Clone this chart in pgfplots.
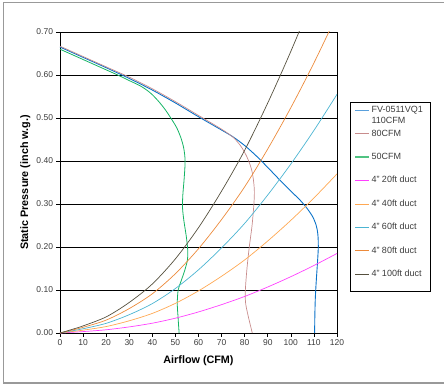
\documentclass[border=0pt]{standalone}
\usepackage{pgfplots}
\pgfplotsset{compat=1.18}
\usepackage{fontspec}
\setmainfont{Liberation Sans}
\definecolor{fvblue}{RGB}{10,114,200}
\definecolor{fvlegend}{RGB}{90,160,220}
\definecolor{rosy}{RGB}{200,140,140}
\definecolor{fgreen}{RGB}{20,180,100}
\definecolor{fglegend}{RGB}{80,195,130}
\definecolor{dmag}{RGB}{255,64,255}
\definecolor{dlor}{RGB}{255,168,82}
\definecolor{dcyan}{RGB}{75,180,210}
\definecolor{dor}{RGB}{236,138,58}
\definecolor{ddark}{RGB}{85,80,62}
\definecolor{tickgray}{RGB}{60,60,60}
\newcommand{\lt}[1]{\textcolor{tickgray}{#1}}

\pgfplotstableread{
x y
0 0
5 0.0016
10 0.0033
20 0.0075
30 0.0142
40 0.0228
50 0.0345
60 0.049
70 0.066
80 0.085
90 0.107
100 0.131
110 0.157
120 0.185
}\ductA
\pgfplotstableread{
x y
0 0
5 0.0032
10 0.0066
20 0.015
30 0.0284
40 0.0456
50 0.069
60 0.098
70 0.132
80 0.17
90 0.214
100 0.262
110 0.314
120 0.37
}\ductB
\pgfplotstableread{
x y
0 0
5 0.0048
10 0.0099
20 0.0225
30 0.0426
40 0.0684
50 0.1035
60 0.147
70 0.198
80 0.255
90 0.321
100 0.393
110 0.471
120 0.555
}\ductC
\pgfplotstableread{
x y
0 0
5 0.0064
10 0.0132
20 0.03
30 0.0568
40 0.0912
50 0.138
60 0.196
70 0.264
80 0.34
90 0.428
100 0.524
110 0.628
120 0.74
}\ductD
\pgfplotstableread{
x y
0 0
5 0.008
10 0.0165
20 0.0375
30 0.071
40 0.114
50 0.1725
60 0.245
70 0.33
80 0.425
90 0.535
100 0.655
110 0.785
120 0.925
}\ductE

\begin{document}
\begin{tikzpicture}
\begin{axis}[
  scale only axis, width=277bp, height=301bp,
  at={(0,0)}, anchor=south west,
  xmin=0, xmax=120, ymin=0, ymax=0.7,
  xtick={0,10,20,30,40,50,60,70,80,90,100,110,120},
  ytick={0,0.1,0.2,0.3,0.4,0.5,0.6,0.7},
  tick align=outside, xtick pos=left, ytick pos=left,
  major tick length=3.5bp,
  tick style={black, line width=0.6pt},
  axis line style={black, line width=1pt},
  ymajorgrids, major grid style={black, line width=0.7pt},
  /pgf/number format/assume math mode=true,
  yticklabel style={/pgf/number format/.cd, fixed, fixed zerofill, precision=2},
  xticklabel style={/pgf/number format/.cd, fixed, precision=0},
  ticklabel style={font=\fontsize{8.5bp}{10bp}\selectfont, text=tickgray},
  xlabel={Airflow (CFM)},
  ylabel={Static Pressure (inch w.g.)},
  every axis x label/.style={at={(axis description cs:0.5,0)}, anchor=north, yshift=-19bp, font=\bfseries\fontsize{10.8bp}{13bp}\selectfont},
  every axis y label/.style={at={(axis description cs:-0.1155,0.5)}, rotate=90, anchor=base, font=\bfseries\fontsize{10.8bp}{13bp}\selectfont},
  legend cell align=left,
  legend image code/.code={\draw[#1] (0bp,0bp) -- (14bp,0bp);},
  legend style={at={(rel axis cs:1.0614,0.7558)}, anchor=north west, draw=none, fill=none, inner sep=0pt,
    row sep=13.9bp, column sep=1bp, font=\fontsize{9bp}{11bp}\selectfont,
    nodes={inner sep=0.5bp, text height=6.5bp, text depth=2bp}},
]
\addplot[fvblue, line width=0.9pt, smooth, tension=0.5, forget plot] coordinates {
(0,0.665) (10,0.641) (20,0.617) (30,0.592) (40,0.565) (50,0.535) (60,0.503) (70,0.472) (75,0.456) (80,0.436) (85,0.412) (90,0.385) (95,0.357) (100,0.330) (104,0.309) (107,0.29) (109.5,0.27) (111,0.25) (111.7,0.23) (111.9,0.20) (111.5,0.16) (111,0.12) (110.6,0.08) (110.4,0.04) (110.3,0)};
\addplot[rosy, line width=0.7pt, smooth, tension=0.5, forget plot] coordinates {
(0,0.667) (10,0.643) (20,0.619) (30,0.595) (40,0.568) (50,0.538) (60,0.506) (70,0.474) (75,0.455) (78,0.437) (80,0.42) (81.6,0.402) (83,0.38) (83.8,0.356) (84.2,0.33) (84,0.30) (83.2,0.25) (82,0.20) (81,0.15) (80.3,0.10) (80.4,0.07) (81.5,0.04) (83.3,0)};
\addplot[fgreen, line width=0.8pt, smooth, tension=0.5, forget plot] coordinates {
(0,0.66) (10,0.636) (20,0.612) (25,0.600) (30,0.587) (35,0.574) (39,0.559) (42.5,0.54) (45.5,0.52) (48,0.50) (50.5,0.478) (52.3,0.455) (53.6,0.43) (54.2,0.40) (53.8,0.36) (53.2,0.32) (53.1,0.29) (53.7,0.26) (54.7,0.225) (55.3,0.195) (55.2,0.17) (54,0.145) (52.4,0.12) (51.2,0.10) (50.8,0.07) (51.1,0.04) (51.6,0)};
\addplot[dmag, line width=0.7pt, smooth, forget plot] table {\ductA};
\addplot[dlor, line width=0.7pt, smooth, forget plot] table {\ductB};
\addplot[dcyan, line width=0.7pt, smooth, forget plot] table {\ductC};
\addplot[dor, line width=0.7pt, smooth, forget plot] table {\ductD};
\addplot[ddark, line width=0.7pt, smooth, forget plot] table {\ductE};
\addlegendimage{draw=fvlegend, line width=1.8pt}
\addlegendentry{\lt{\smash{\begin{tabular}[t]{@{}l@{}}FV-0511VQ1\\110CFM\end{tabular}}}}
\addlegendimage{draw=rosy, line width=0.9pt}
\addlegendentry{\lt{80CFM}}
\addlegendimage{draw=fglegend, line width=1.6pt}
\addlegendentry{\lt{50CFM}}
\addlegendimage{draw=dmag, line width=0.9pt}
\addlegendentry{\lt{4" 20ft duct}}
\addlegendimage{draw=dlor, line width=0.9pt}
\addlegendentry{\lt{4" 40ft duct}}
\addlegendimage{draw=dcyan, line width=0.9pt}
\addlegendentry{\lt{4" 60ft duct}}
\addlegendimage{draw=dor, line width=0.9pt}
\addlegendentry{\lt{4" 80ft duct}}
\addlegendimage{draw=ddark, line width=0.9pt}
\addlegendentry{\lt{4" 100ft duct}}
\end{axis}
\draw[black, line width=0.9pt] (290bp,231bp) rectangle (370bp,42bp);
\draw[gray!80, line width=1.5bp] (384bp,330.5bp) -- (-56.5bp,330.5bp) -- (-56.5bp,-50bp) -- (384bp,-50bp);
\pgfresetboundingbox
\useasboundingbox (-60bp,-52bp) rectangle (384bp,333bp);
\end{tikzpicture}
\end{document}
